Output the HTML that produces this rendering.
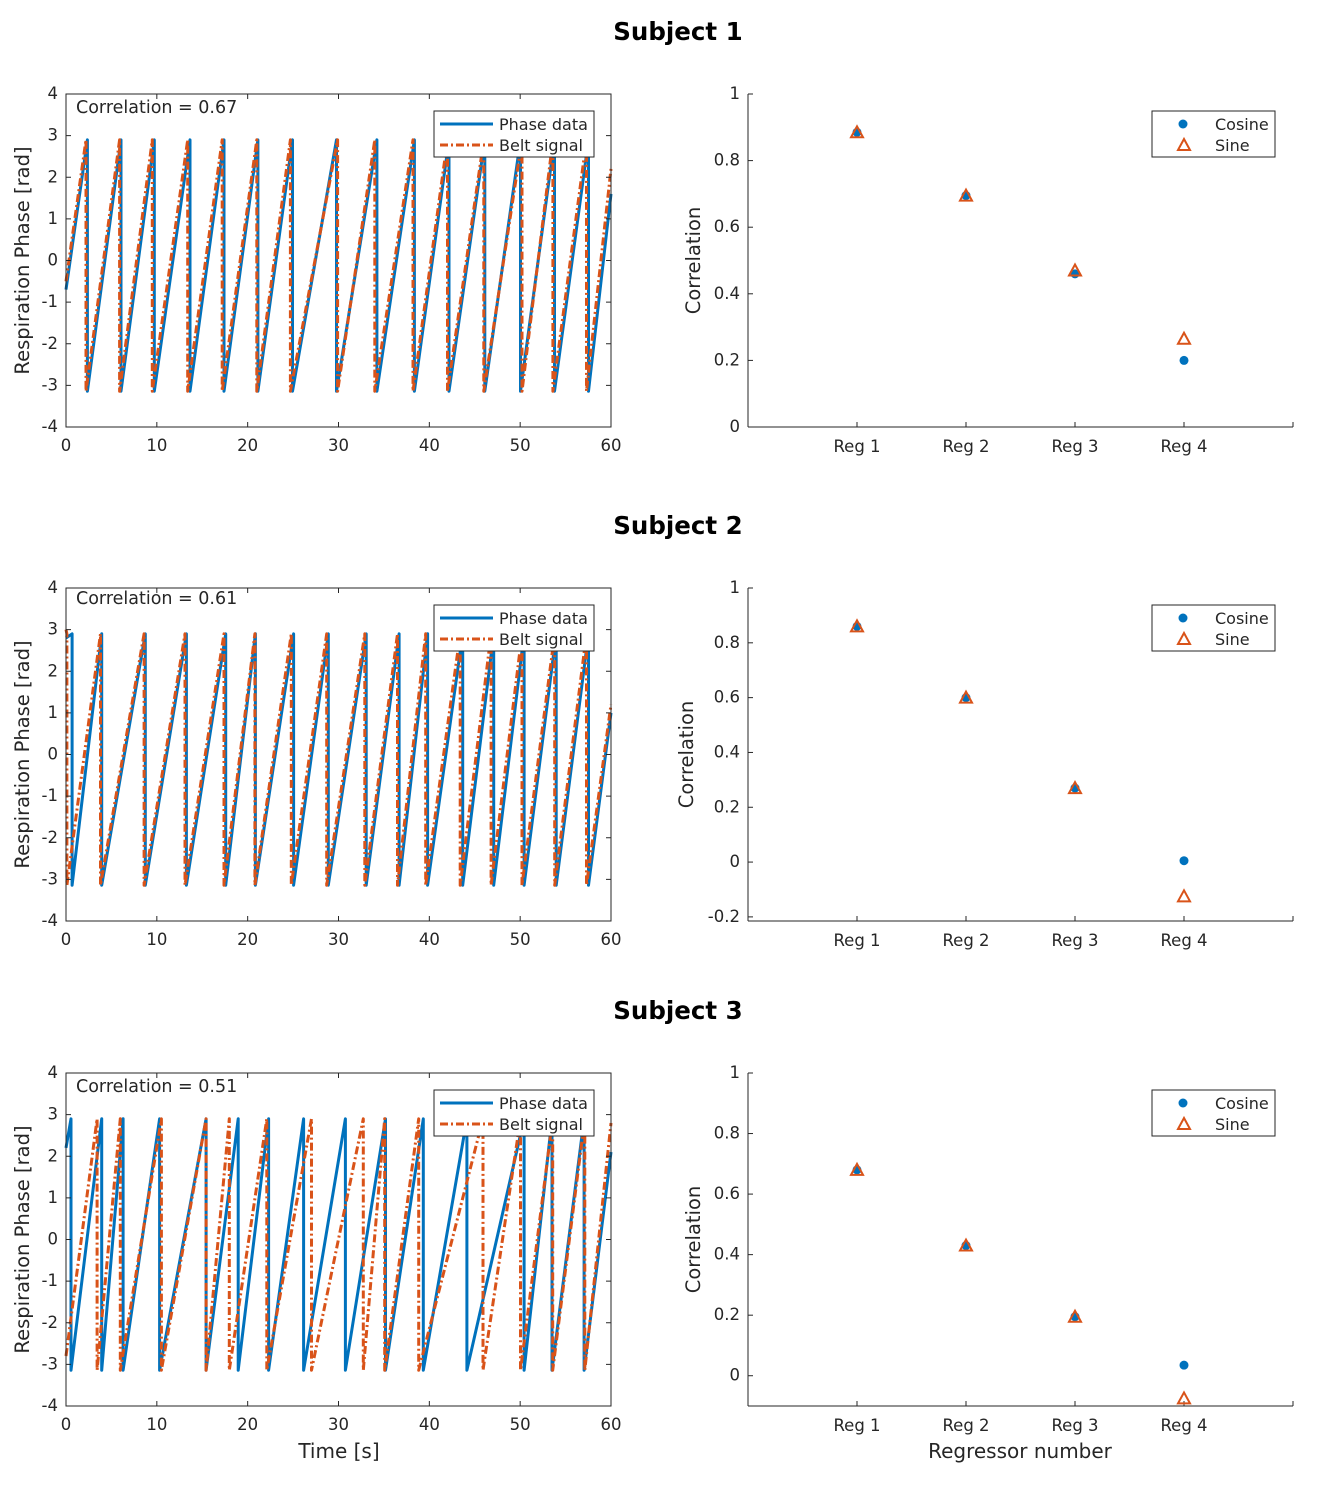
<!DOCTYPE html>
<html><head><meta charset="utf-8"><style>
body{margin:0;background:#fff;}
svg{display:block;font-family:"DejaVu Sans","Liberation Sans",sans-serif;}
</style></head><body>
<svg id="fig" width="1330" height="1488" viewBox="0 0 1330 1488" xmlns="http://www.w3.org/2000/svg"></svg>
<script>
// ---- data ----
const subjectTitles = ["Subject 1","Subject 2","Subject 3"];
const correlationLabels = ["Correlation = 0.67","Correlation = 0.61","Correlation = 0.51"];
// wrap (phase reset) times in seconds
const s1PhaseWraps = [2.36,6.06,9.72,13.65,17.39,21.13,24.94,29.78,34.23,38.36,42.17,46.11,50.04,53.78,57.52];
const s1BeltWraps  = [2.2,5.9,9.5,13.4,17.2,21.0,24.7,29.9,34.0,38.2,42.0,46.0,50.2,53.6,57.3];
const s2PhaseWraps = [0.67,3.93,8.73,13.26,17.58,20.85,25.06,28.88,33.05,36.67,39.81,43.67,47.09,50.43,53.97,57.52];
const s2BeltWraps  = [0.1,3.8,8.6,13.1,17.4,20.8,24.8,28.7,32.9,36.5,39.6,43.4,46.8,50.2,53.8,57.3];
const s3PhaseWraps = [0.55,3.93,6.29,10.31,15.42,18.96,22.31,26.16,30.76,35.17,39.34,44.14,50.43,53.5,57.04];
const s3BeltWraps  = [3.42,5.98,10.5,15.42,17.98,22.11,27.03,32.73,35.09,38.83,45.91,50.04,53.58,57.12];
const phaseStart = [-0.7,2.8,2.2], phaseEnd = [1.6,1.0,2.1];
const beltStart = [-0.5,3.0,-2.8], beltEnd = [2.2,1.2,2.8];
const regCategories = ["Reg 1","Reg 2","Reg 3","Reg 4"];
const s1Cosine = [0.885,0.695,0.46,0.20];
const s1Sine   = [0.885,0.695,0.47,0.265];
const s2Cosine = [0.86,0.60,0.27,0.005];
const s2Sine   = [0.86,0.60,0.27,-0.125];
const s3Cosine = [0.68,0.43,0.195,0.035];
const s3Sine   = [0.68,0.43,0.195,-0.075];
const timeTicks = [0,10,20,30,40,50,60];
const phaseTicks = [-4,-3,-2,-1,0,1,2,3,4];
const corrTicks1 = [0,0.2,0.4,0.6,0.8,1];
const corrTicks2 = [-0.2,0,0.2,0.4,0.6,0.8,1];
const corrTicks3 = [0,0.2,0.4,0.6,0.8,1];

const NS="http://www.w3.org/2000/svg";
const svg=document.getElementById('fig');
function mk(tag,attrs,parent,text){const e=document.createElementNS(NS,tag);for(const k in attrs)e.setAttribute(k,attrs[k]);if(text!==undefined)e.textContent=text;(parent||svg).appendChild(e);return e;}
const BLUE="#0072BD",ORANGE="#D95319",AX="#262626";
const TF=16.5, LF=16;
const rowTop=[94,588,1073];
const phaseSets=[[s1PhaseWraps,s1BeltWraps],[s2PhaseWraps,s2BeltWraps],[s3PhaseWraps,s3BeltWraps]];
const corrSets=[[s1Cosine,s1Sine],[s2Cosine,s2Sine],[s3Cosine,s3Sine]];
const corrTicks=[corrTicks1,corrTicks2,corrTicks3];
const corrLims=[[0,1],[-0.215,1],[-0.1,1]];
const LO=-3.14,HI=2.9;

function sawPoints(wraps,start,end){
  const pts=[[0,start]];
  wraps.forEach(w=>{pts.push([w,HI]);pts.push([w,LO]);});
  pts.push([60,end]);return pts;
}

for(let r=0;r<3;r++){
  const top=rowTop[r],bot=top+333;
  const g=mk('g',{},svg);
  
  
  const t=mk('text',{x:678,y:top-54,'text-anchor':'middle','font-size':24.5,'font-weight':'bold',fill:'#000'},g,subjectTitles[r]);
  
  // ---- left phase plot ----
  const x0=66,x1=611;
  const sx=v=>x0+(v/60)*(x1-x0);
  const sy=v=>bot-(v+4)/8*(bot-top);
  const lp=mk('g',{},g);
  
  mk('rect',{x:x0,y:top,width:x1-x0,height:bot-top,fill:'#fff'},lp);
  const series=[[phaseSets[r][0],phaseStart[r],phaseEnd[r],BLUE,''],[phaseSets[r][1],beltStart[r],beltEnd[r],ORANGE,'8 3 2 3']];
  series.forEach((s,i)=>{
    const d=sawPoints(s[0],s[1],s[2]).map((p,j)=>(j?'L':'M')+sx(p[0]).toFixed(1)+' '+sy(p[1]).toFixed(1)).join(' ');
    const pa=mk('path',{d:d,fill:'none',stroke:s[3],'stroke-width':3,'stroke-dasharray':s[4]||'none','stroke-linejoin':'round'},lp);
    
    
  });
  mk('rect',{x:x0,y:top,width:x1-x0,height:bot-top,fill:'none',stroke:AX,'stroke-width':1},lp);
  timeTicks.forEach(v=>{
    mk('line',{x1:sx(v),x2:sx(v),y1:bot,y2:bot-5,stroke:AX},lp);
    mk('line',{x1:sx(v),x2:sx(v),y1:top,y2:top+5,stroke:AX},lp);
    const tl=mk('text',{x:sx(v),y:bot+24,'text-anchor':'middle','font-size':TF,fill:AX},lp,String(v));
    
  });
  phaseTicks.forEach(v=>{
    mk('line',{x1:x0,x2:x0+5,y1:sy(v),y2:sy(v),stroke:AX},lp);
    mk('line',{x1:x1,x2:x1-5,y1:sy(v),y2:sy(v),stroke:AX},lp);
    const tl=mk('text',{x:x0-8,y:sy(v)+5,'text-anchor':'end','font-size':TF,fill:AX},lp,String(v));
    
  });
  const yl=mk('text',{x:0,y:0,transform:`translate(29,${(top+bot)/2}) rotate(-90)`,'text-anchor':'middle','font-size':19.5,fill:AX},lp,'Respiration Phase [rad]');
  
  const ct=mk('text',{x:76,y:top+(r==1?16:19),'font-size':17.5,fill:AX},lp,correlationLabels[r]);
  
  // legend
  const lg=mk('g',{},lp);
  
  const ly=top+17;
  mk('rect',{x:434,y:ly,width:160,height:46,fill:'#fff',stroke:AX,'stroke-width':1},lg);
  mk('line',{x1:440,x2:493,y1:ly+13,y2:ly+13,stroke:BLUE,'stroke-width':3},lg);
  mk('line',{x1:440,x2:493,y1:ly+34,y2:ly+34,stroke:ORANGE,'stroke-width':3,'stroke-dasharray':'8 3 2 3'},lg);
  const e1=mk('text',{x:499,y:ly+19,'font-size':LF,fill:AX},lg,'Phase data');
  
  const e2=mk('text',{x:499,y:ly+40,'font-size':LF,fill:AX},lg,'Belt signal');
  
  if(r==2){const xl=mk('text',{x:339,y:bot+52,'text-anchor':'middle','font-size':20,fill:AX},lp,'Time [s]');
    }

  // ---- right correlation plot ----
  const X0=748,X1=1293;
  const [ymin,ymax]=corrLims[r];
  const cx=i=>X0+(i+1)/5*(X1-X0);
  const cy=v=>bot-(v-ymin)/(ymax-ymin)*(bot-top);
  const rp=mk('g',{},g);
  
  mk('line',{x1:X0,x2:X0,y1:top,y2:bot,stroke:AX},rp);
  mk('line',{x1:X0,x2:X1,y1:bot,y2:bot,stroke:AX},rp);
  corrTicks[r].forEach(v=>{
    mk('line',{x1:X0,x2:X0+5,y1:cy(v),y2:cy(v),stroke:AX},rp);
    const tl=mk('text',{x:X0-8,y:cy(v)+5,'text-anchor':'end','font-size':TF,fill:AX},rp,String(v));
    
  });
  mk('line',{x1:X1,x2:X1,y1:bot,y2:bot-5,stroke:AX},rp);
  regCategories.forEach((c,i)=>{
    mk('line',{x1:cx(i),x2:cx(i),y1:bot,y2:bot-5,stroke:AX},rp);
    const tl=mk('text',{x:cx(i),y:bot+25,'text-anchor':'middle','font-size':TF,fill:AX},rp,c);
    
  });
  const ylx=r==1?693:700;
  const yl2=mk('text',{x:0,y:0,transform:`translate(${ylx},${(top+bot)/2}) rotate(-90)`,'text-anchor':'middle','font-size':19.5,fill:AX},rp,'Correlation');
  
  corrSets[r][0].forEach((v,i)=>{
    const m=mk('circle',{cx:cx(i),cy:cy(v),r:4.5,fill:BLUE},rp);
    
  });
  corrSets[r][1].forEach((v,i)=>{
    const x=cx(i),y=cy(v);
    const m=mk('polygon',{points:`${x},${y-6} ${x-6},${y+5} ${x+6},${y+5}`,fill:'none',stroke:ORANGE,'stroke-width':2},rp);
    
  });
  const lg2=mk('g',{},rp);
  
  mk('rect',{x:1152,y:ly,width:123,height:46,fill:'#fff',stroke:AX,'stroke-width':1},lg2);
  mk('circle',{cx:1183,cy:ly+13,r:4.5,fill:BLUE},lg2);
  mk('polygon',{points:`1184,${ly+28} 1178,${ly+39} 1190,${ly+39}`,fill:'none',stroke:ORANGE,'stroke-width':2},lg2);
  const c1=mk('text',{x:1215,y:ly+19,'font-size':LF,fill:AX},lg2,'Cosine');
  
  const c2=mk('text',{x:1215,y:ly+40,'font-size':LF,fill:AX},lg2,'Sine');
  
  if(r==2){const xl=mk('text',{x:1020,y:bot+52,'text-anchor':'middle','font-size':20,fill:AX},rp,'Regressor number');
    }
}
</script>
</body></html>
